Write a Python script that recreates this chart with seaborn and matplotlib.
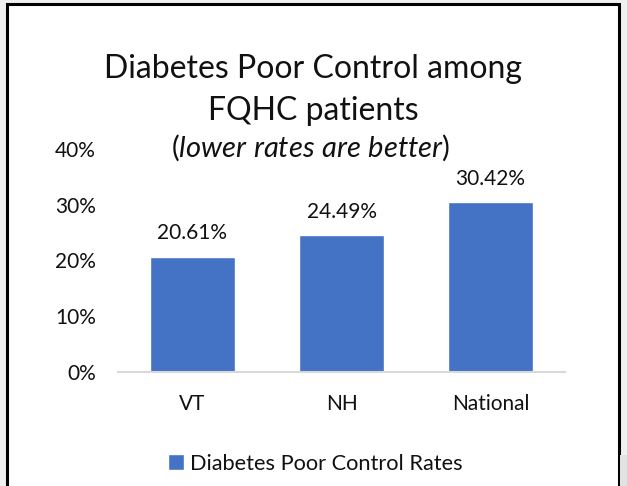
import numpy as np
import pandas as pd
import seaborn as sns
import matplotlib.pyplot as plt
from matplotlib.patches import Rectangle
from matplotlib.ticker import PercentFormatter

# values
categories = ["VT", "NH", "National"]
rates = [0.2061, 0.2449, 0.3042]
y_ticks = [0.0, 0.1, 0.2, 0.3, 0.4]
series_name = "Diabetes Poor Control Rates"
title_lines = ["Diabetes Poor Control among", "FQHC patients"]

W, H = 627, 486


def main():
    sns.set_theme(style="white")
    plt.rcParams["font.family"] = ["Lato", "DejaVu Sans"]
    plt.rcParams["mathtext.fontset"] = "custom"
    plt.rcParams["mathtext.rm"] = "Lato"
    plt.rcParams["mathtext.it"] = "Lato:italic"

    df = pd.DataFrame({"category": categories, "rate": rates})

    fig = plt.figure(figsize=(W / 100, H / 100), dpi=100, facecolor="#f0f0f0")
    # white chart area with black frame
    fig.patches.append(Rectangle((6.5 / W, -0.05), 612 / W, 1.05 - 4.5 / H,
                                 transform=fig.transFigure, facecolor="white",
                                 edgecolor="black", linewidth=2.2, zorder=-2))
    fig.patches.append(Rectangle((620 / W, 0), 7 / W, 31 / H,
                                 transform=fig.transFigure, facecolor="#e2e2e2",
                                 edgecolor="none", zorder=-2))

    ax = fig.add_axes([118 / W, 1 - 372 / H, 447 / W, 223 / H])
    ax.set_facecolor("none")
    sns.barplot(data=df, x="category", y="rate", color="#4472C4", width=0.57,
                saturation=1, label=series_name, ax=ax)

    ax.set_ylim(0, 0.4)
    ax.set_xlim(-0.5, 2.5)
    ax.set_yticks(y_ticks)
    ax.yaxis.set_major_formatter(PercentFormatter(1.0, decimals=0))
    ax.set_xlabel("")
    ax.set_ylabel("")
    ax.tick_params(axis="y", length=0, pad=16, labelsize=15, labelcolor="#111111")
    ax.tick_params(axis="x", length=0, pad=16, labelsize=15, labelcolor="#111111")
    for side in ["left", "right", "top"]:
        ax.spines[side].set_visible(False)
    ax.spines["bottom"].set_color("#d9d9d9")
    ax.spines["bottom"].set_linewidth(1.5)

    ax.bar_label(ax.containers[0], labels=[f"{v * 100:.2f}%" for v in rates],
                 padding=10, fontsize=15, color="#111111")

    fig.text(313 / W, 1 - 78 / H, title_lines[0], ha="center", va="baseline",
             fontsize=23, color="#111111")
    fig.text(313 / W, 1 - 120 / H, title_lines[1], ha="center", va="baseline",
             fontsize=23, color="#111111")
    fig.text(311 / W, 1 - 157 / H, r"($\mathit{lower\ rates\ are\ better}$)",
             ha="center", va="baseline", fontsize=21, color="#111111")

    ax.legend(loc="center", bbox_to_anchor=(315 / W, 1 - 464 / H),
              bbox_transform=fig.transFigure, frameon=False, fontsize=15.7,
              handlelength=0.75, handleheight=0.75, handletextpad=0.25,
              labelcolor="#111111")

    fig.savefig("out.png", dpi=100, facecolor=fig.get_facecolor())


if __name__ == "__main__":
    main()
